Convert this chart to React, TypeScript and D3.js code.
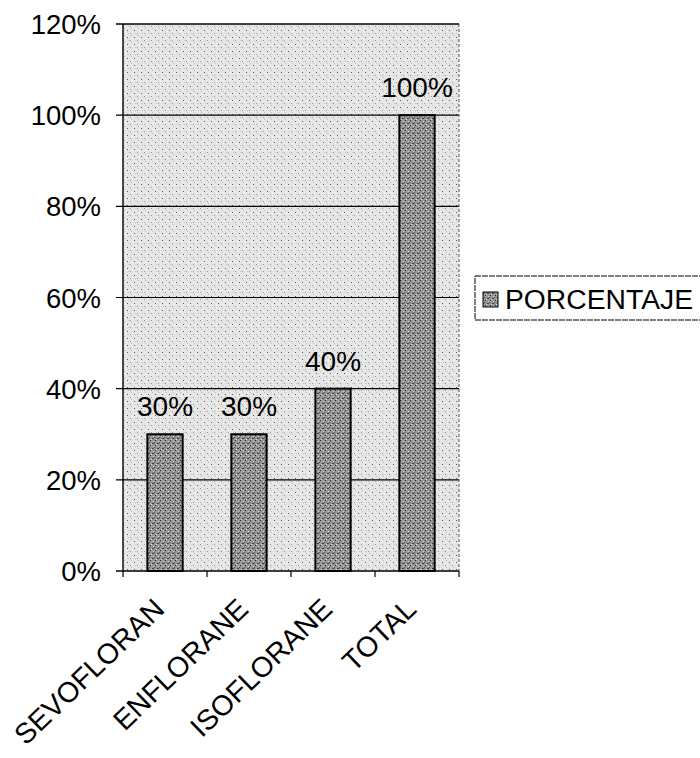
import React from "react";
import * as d3 from "d3";

const categories = ["SEVOFLORAN", "ENFLORANE", "ISOFLORANE", "TOTAL"];
const values = [30, 30, 40, 100];
const yTicks = [0, 20, 40, 60, 80, 100, 120];
const seriesName = "PORCENTAJE";

const W = 700;
const H = 758;
const plot = { left: 123, right: 459, top: 24, bottom: 571 };
const FONT = "Arial, 'Liberation Sans', Helvetica, sans-serif";

export default function App() {
  const x = d3
    .scaleBand<string>()
    .domain(categories)
    .range([plot.left, plot.right])
    .paddingInner(0.58)
    .paddingOuter(0.29);
  const bands = d3.scaleBand<string>().domain(categories).range([plot.left, plot.right]);
  const y = d3.scaleLinear().domain([0, 120]).range([plot.bottom, plot.top]);

  const boundaries = d3.range(categories.length + 1).map((i) => plot.left + i * bands.step());

  return (
    <svg
      width={W}
      height={H}
      style={{ position: "absolute", left: 0, top: 0, background: "#fff" }}
      fontFamily={FONT}
    >
      <defs>
        <pattern id="bgStip" width="7" height="7" patternUnits="userSpaceOnUse">
          <rect width="7" height="7" fill="#e6e6e6" />
          <rect x="1" y="2" width="1" height="1" fill="#5a5a5a" />
          <rect x="4" y="5" width="1" height="1" fill="#9a9a9a" />
          <rect x="5" y="0" width="1" height="1" fill="#bdbdbd" />
          <rect x="2" y="5" width="1" height="1" fill="#c8c8c8" />
          <rect x="6" y="3" width="1" height="1" fill="#f6f6f6" />
        </pattern>
        <pattern id="barStip" width="5" height="5" patternUnits="userSpaceOnUse">
          <rect width="5" height="5" fill="#969696" />
          <rect x="0" y="0" width="1" height="1" fill="#2a2a2a" />
          <rect x="2" y="3" width="2" height="1" fill="#444" />
          <rect x="3" y="1" width="1" height="1" fill="#d0d0d0" />
          <rect x="1" y="4" width="1" height="1" fill="#e0e0e0" />
          <rect x="4" y="2" width="1" height="1" fill="#505050" />
        </pattern>
      </defs>

      {/* plot background */}
      <rect
        x={plot.left}
        y={plot.top}
        width={plot.right - plot.left}
        height={plot.bottom - plot.top}
        fill="url(#bgStip)"
      />

      {/* gridlines */}
      {yTicks.map((t) => (
        <line
          key={"g" + t}
          x1={plot.left - 7}
          x2={plot.right}
          y1={y(t)}
          y2={y(t)}
          stroke="#000"
          strokeWidth={t === 0 || t === 120 ? 1.6 : 1.2}
        />
      ))}

      {/* right border */}
      <line
        x1={plot.right}
        x2={plot.right}
        y1={plot.top}
        y2={plot.bottom}
        stroke="#555"
        strokeWidth={1}
        strokeDasharray="3,2"
      />
      {/* left axis */}
      <line x1={plot.left} x2={plot.left} y1={plot.top} y2={plot.bottom} stroke="#000" strokeWidth={1.4} />

      {/* x ticks */}
      {boundaries.map((bx, i) => (
        <line key={"xt" + i} x1={bx} x2={bx} y1={plot.bottom} y2={plot.bottom + 6} stroke="#000" strokeWidth={1.2} />
      ))}

      {/* bars */}
      {categories.map((c, i) => (
        <rect
          key={c}
          x={x(c)}
          y={y(values[i])}
          width={x.bandwidth()}
          height={y(0) - y(values[i])}
          fill="url(#barStip)"
          stroke="#000"
          strokeWidth={2}
        />
      ))}

      {/* data labels */}
      {categories.map((c, i) => (
        <text
          key={"l" + c}
          x={(x(c) as number) + x.bandwidth() / 2}
          y={y(values[i]) - 18}
          textAnchor="middle"
          fontSize={28}
          fill="#000"
        >
          {values[i]}%
        </text>
      ))}

      {/* y labels */}
      {yTicks.map((t) => (
        <text key={"yl" + t} x={101} y={y(t) + 10} textAnchor="end" fontSize={27.5} fill="#000">
          {t}%
        </text>
      ))}

      {/* x labels */}
      {categories.map((c) => {
        const cx = (bands(c) as number) + bands.bandwidth() / 2;
        return (
          <text
            key={"xl" + c}
            transform={`translate(${cx + 1},${611}) rotate(-44)`}
            textAnchor="end"
            fontSize={28.5}
            fill="#000"
          >
            {c}
          </text>
        );
      })}

      {/* legend */}
      <rect x={475} y={276} width={240} height={44} fill="#fff" stroke="#000" strokeWidth={1} strokeDasharray="6,1" />
      <rect x={483} y={292} width={15} height={15} fill="url(#barStip)" stroke="#000" strokeWidth={1} />
      <text x={505} y={308.5} fontSize={27} fill="#000" textLength={188} lengthAdjust="spacingAndGlyphs">
        {seriesName}
      </text>
    </svg>
  );
}
